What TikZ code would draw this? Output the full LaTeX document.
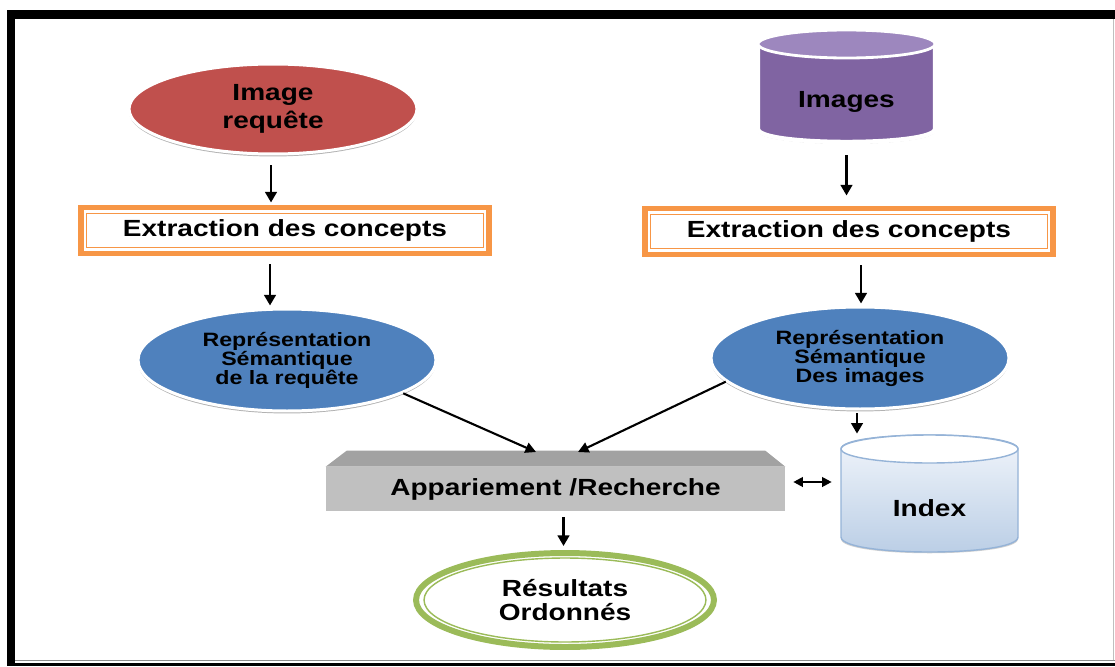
\documentclass[tikz,border=0pt]{standalone}
\usepackage{fontspec}
\setmainfont{Liberation Sans}[FakeStretch=1.2]
\usetikzlibrary{shapes.geometric,arrows.meta,calc,shadows}

\definecolor{redC}{HTML}{C0504D}
\definecolor{blueC}{HTML}{4F81BD}
\definecolor{orangeC}{HTML}{F79646}
\definecolor{greenC}{HTML}{9BBB59}
\definecolor{purpleC}{HTML}{8064A2}
\definecolor{purpleTop}{HTML}{9D87BE}
\definecolor{greyFront}{HTML}{C0C0C0}
\definecolor{greyTop}{HTML}{A2A2A2}
\definecolor{idxLine}{HTML}{95B3D7}
\definecolor{idxLow}{HTML}{B9CDE5}
\definecolor{idxHigh}{HTML}{F4F7FC}

\tikzset{
  big/.style={font=\bfseries\fontsize{13.3}{15.5}\selectfont, align=center, text=black},
  small/.style={font=\bfseries\fontsize{11}{10.8}\selectfont, align=center, text=black},
  oval/.style={ellipse, inner sep=0pt, draw=white, line width=1.7pt,
    drop shadow={shadow xshift=0pt, shadow yshift=-1.4pt, fill=black, opacity=0.3}},
  conceptbox/.style={rectangle, draw=orangeC, line width=3.4pt, fill=white,
    minimum width=8.18cm, minimum height=0.92cm, inner sep=0pt, big},
  arr/.style={line width=1.6pt, -{Triangle[length=6pt,width=6.5pt]}},
  thinarr/.style={line width=1.2pt, -{Triangle[length=6pt,width=6pt]}},
  both/.style={line width=1.2pt, {Triangle[length=5.5pt,width=5.5pt]}-{Triangle[length=5.5pt,width=5.5pt]}}
}

\begin{document}
\begin{tikzpicture}[x=0.02cm, y=-0.02cm]
\useasboundingbox (0,0) rectangle (1115,666);

% outer frame
\fill[black] (7,10) rectangle (1115,19);
\fill[black] (7,10) rectangle (15,666);
\fill[black] (7,663) rectangle (1115,666);
\draw[black!45, line width=0.7pt] (15,660.5) -- (1115,660.5);
\draw[black!25, line width=0.5pt] (1113,19) -- (1113,660);

% query image
\node[oval, fill=redC, minimum width=5.76cm, minimum height=1.8cm, big] (qimg) at (273,109) {Image\\requête};

% image collection (cylinder)
\fill[black!30] (758,47) -- (758,131) .. controls (758,148) and (935,148) .. (935,131) -- (935,47) -- cycle;
\draw[white, line width=2.5pt, fill=purpleC] (758,44) -- (758,129) .. controls (758,146.3) and (935,146.3) .. (935,129) -- (935,44) .. controls (935,25.3) and (758,25.3) .. (758,44) -- cycle;
\draw[white, line width=1.6pt, fill=purpleTop] (846.5,44) ellipse [x radius=1.77cm, y radius=0.28cm];
\node[minimum width=3.58cm, minimum height=2.3cm, inner sep=0pt] (imgs) at (846.5,85.5) {};
\node[big] (imgslbl) at (846.5,102) {Images};

% concept extraction boxes
\node[conceptbox] (ext1) at (285,230.5) {Extraction des concepts};
\node[conceptbox] (ext2) at (849,231.5) {Extraction des concepts};
\draw[orangeC, line width=0.8pt] ($(ext1.north west)+(9,9)$) rectangle ($(ext1.south east)+(-9,-9)$);
\draw[orangeC, line width=0.8pt] ($(ext2.north west)+(9,9)$) rectangle ($(ext2.south east)+(-9,-9)$);

% semantic representations
\node[oval, fill=blueC, minimum width=5.96cm, minimum height=2.04cm, small] (rq) at (287,360) {Représentation\\Sémantique\\de la requête};
\node[oval, fill=blueC, minimum width=5.96cm, minimum height=2.04cm, small] (ri) at (860,358) {Représentation\\Sémantique\\Des images};

% matching / search block
\node[fill=greyFront, minimum width=9.18cm, minimum height=0.88cm, inner sep=0pt, big] (app) at (555.5,489) {Appariement /Recherche};
\fill[greyTop] (app.north west) -- ($(app.north west)+(21,-16)$) -- ($(app.north east)+(-20,-16)$) -- (app.north east) -- cycle;
\coordinate (in1) at (536,452);
\coordinate (in2) at (578,452);

% index (cylinder)
\fill[black!18] (841,452) -- (841,539) .. controls (841,558) and (1018,558) .. (1018,539) -- (1018,452) -- cycle;
\draw[idxLine, line width=0.8pt, top color=idxHigh, bottom color=idxLow] (841,449) -- (841,537) .. controls (841,557) and (1018,557) .. (1018,537) -- (1018,449) .. controls (1018,430.3) and (841,430.3) .. (841,449) -- cycle;
\draw[idxLine, line width=0.8pt, fill=white] (929.5,449) ellipse [x radius=1.77cm, y radius=0.28cm];
\node[minimum width=3.58cm, minimum height=2.34cm, inner sep=0pt] (idx) at (929.5,493.5) {};
\node[big] (idxlbl) at (929.5,508) {Index};

% ranked results
\node[ellipse, draw=greenC, line width=3.4pt, fill=white, minimum width=5.96cm, minimum height=1.88cm, inner sep=0pt,
  font=\bfseries\fontsize{13.3}{13.6}\selectfont, align=center] (res) at (565,600) {Résultats\\Ordonnés};
\draw[greenC, line width=0.8pt] (res.center) ellipse [x radius=2.82cm, y radius=0.84cm];

% connectors
\draw[arr] ($(qimg.south)+(-2,10)$) -- ($(qimg.south |- ext1.north)+(-2,-2)$);
\draw[arr] ($(ext1.south)+(-15,8)$) -- ($(ext1.south |- rq.north)+(-15,-2)$);
\draw[arr] ($(imgs.south)+(0,12)$) -- ($(imgs.south |- ext2.north)+(0,-10)$);
\draw[arr] ($(ext2.south)+(12,8)$) -- ($(ext2.south |- ri.north)+(12,-2)$);
\draw[thinarr] (rq.-16) -- (in1);
\draw[thinarr] (ri.190) -- (in2);
\draw[arr] ($(ri.south)+(-3,3)$) -- ($(ri.south |- idx.north)+(-3,-1)$);
\draw[both] ($(app.east)+(8,-7)$) -- ($(app.east -| idx.west)+(-8,-7)$);
\draw[arr] ($(app.south)+(8,6)$) -- ($(app.south |- res.north)+(8,-4)$);
\end{tikzpicture}
\end{document}
